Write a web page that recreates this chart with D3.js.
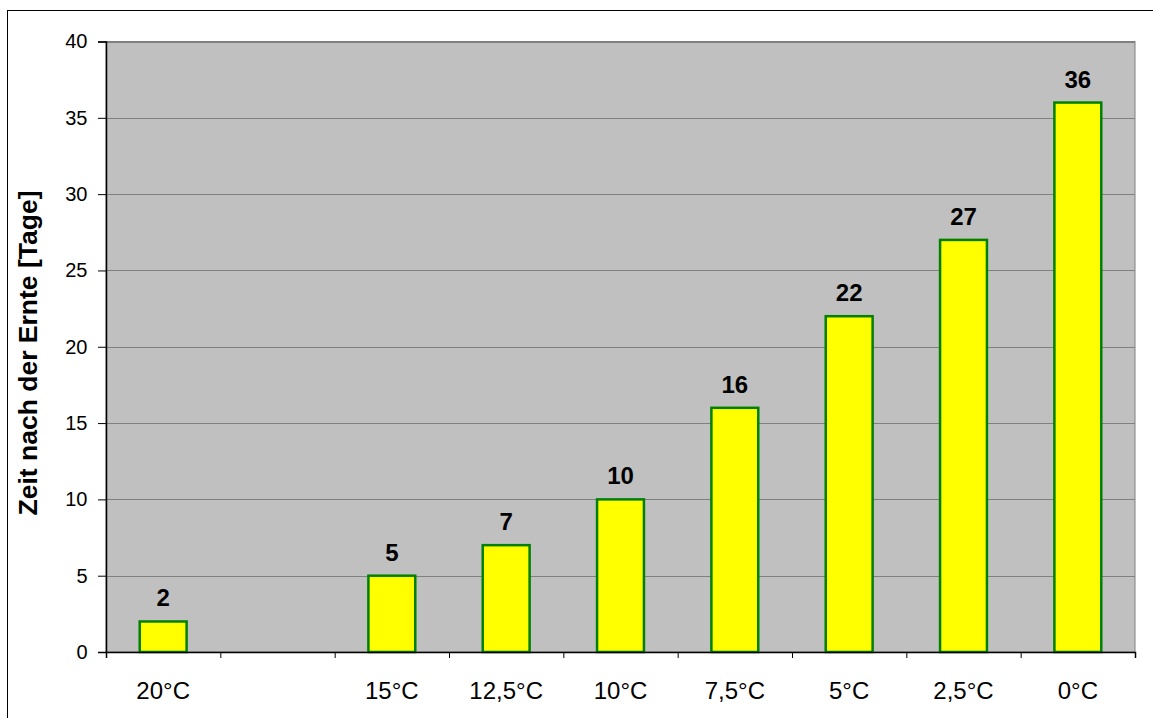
<!DOCTYPE html>
<html><head><meta charset="utf-8">
<script src="https://cdn.jsdelivr.net/npm/d3@7"></script>
<style>body{margin:0;background:#fff}svg{display:block}</style>
</head><body>
<svg id="c" width="1153" height="718"></svg>
<script>
const categories = ["20°C", "", "15°C", "12,5°C", "10°C", "7,5°C", "5°C", "2,5°C", "0°C"];
const values = [2, null, 5, 7, 10, 16, 22, 27, 36];
const yTicks = [0, 5, 10, 15, 20, 25, 30, 35, 40];
const yTitle = "Zeit nach der Ernte [Tage]";

const svg = d3.select("#c");
const L = 106, R = 1135, T = 41.5, B = 652;
const font = "Arial, 'Liberation Sans', sans-serif";

svg.append("rect").attr("x", 7.5).attr("y", 10.5).attr("width", 1200).attr("height", 800)
  .attr("fill", "#fff").attr("stroke", "#000").attr("stroke-width", 1);

const x = d3.scaleBand().domain(d3.range(categories.length)).range([L, R]).paddingInner(0.59).paddingOuter(0.295);
const xs = d3.scaleLinear().domain([0, categories.length]).range([L, R]);
const y = d3.scaleLinear().domain([0, 40]).range([B, T]);

svg.append("rect").attr("x", L).attr("y", T).attr("width", R - L).attr("height", B - T)
  .attr("fill", "#c0c0c0").attr("stroke", "#808080").attr("stroke-width", 1);

svg.append("g").selectAll("line").data(yTicks.filter(d => d > 0)).join("line")
  .attr("x1", L).attr("x2", R).attr("y1", d => Math.round(y(d)) + 0.5).attr("y2", d => Math.round(y(d)) + 0.5)
  .attr("stroke", "#808080").attr("stroke-width", 1);

const data = values.map((v, i) => ({i, v})).filter(d => d.v != null);
svg.append("g").selectAll("rect").data(data).join("rect")
  .attr("x", d => x(d.i)).attr("width", x.bandwidth())
  .attr("y", d => y(d.v)).attr("height", d => B - y(d.v))
  .attr("fill", "#ffff00").attr("stroke", "#008000").attr("stroke-width", 2.5);

svg.append("g").selectAll("text").data(data).join("text")
  .attr("x", d => x(d.i) + x.bandwidth() / 2).attr("y", d => y(d.v) - 15)
  .attr("text-anchor", "middle").attr("font-family", font).attr("font-weight", "bold")
  .attr("font-size", 24).attr("fill", "#000").text(d => d.v);

// y axis
const ya = svg.append("g").attr("transform", `translate(${L},0)`)
  .call(d3.axisLeft(y).tickValues(yTicks).tickSize(8).tickPadding(10.5));
ya.select(".domain").attr("stroke", "#000").attr("stroke-width", 1.5);
ya.selectAll(".tick line").attr("stroke", "#000");
ya.selectAll("text").attr("font-family", font).attr("font-size", 20).attr("fill", "#000");

// x axis
const xa = svg.append("g").attr("transform", `translate(0,${B})`)
  .call(d3.axisBottom(xs).tickValues(d3.range(categories.length + 1)).tickSize(6).tickFormat(""));
xa.select(".domain").attr("stroke", "#000").attr("stroke-width", 1.5);
xa.selectAll(".tick line").attr("stroke", "#000");

svg.append("g").selectAll("text").data(categories).join("text")
  .attr("x", (d, i) => x(i) + x.bandwidth() / 2).attr("y", 699)
  .attr("text-anchor", "middle").attr("font-family", font).attr("font-size", 24).attr("fill", "#000")
  .text(d => d);

svg.append("text").attr("transform", `translate(37,353) rotate(-90)`)
  .attr("text-anchor", "middle").attr("font-family", font).attr("font-weight", "bold")
  .attr("font-size", 26.5).attr("fill", "#000").text(yTitle);
</script>
</body></html>
